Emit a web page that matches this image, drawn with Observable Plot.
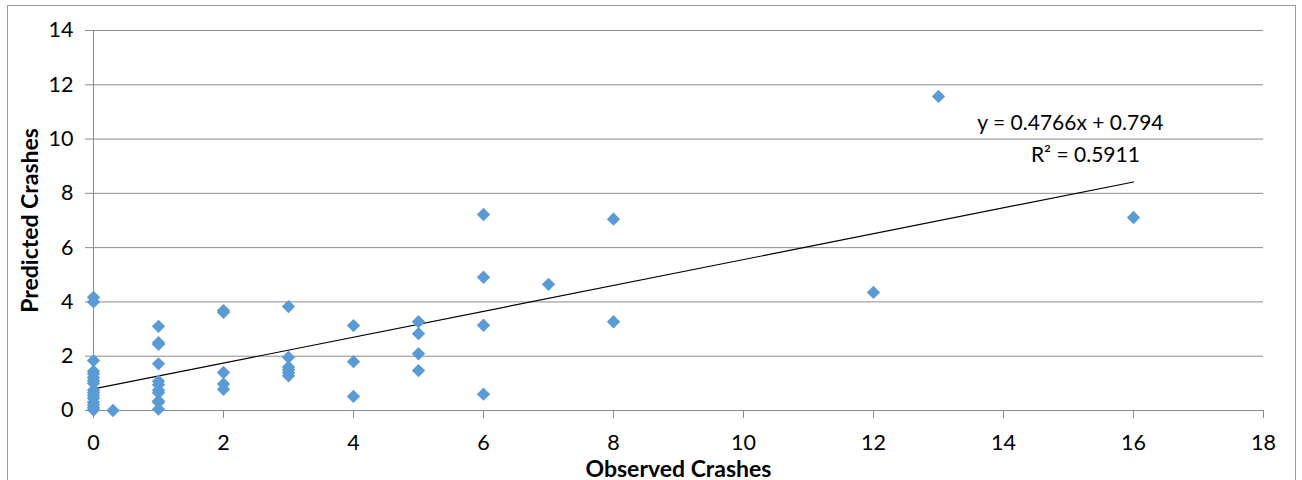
<!DOCTYPE html>
<html>
<head>
<meta charset="utf-8">
<script src="https://cdn.jsdelivr.net/npm/d3@7"></script>
<script src="https://cdn.jsdelivr.net/npm/@observablehq/plot@0.6"></script>
<style>
  html, body { margin: 0; padding: 0; background: #fff; }
  #wrap { position: relative; width: 1302px; height: 480px; }
  #border { position: absolute; left: 7px; top: 5px; width: 1289px; height: 480px; border: 1px solid #9a9a9a; box-sizing: border-box; pointer-events: none; }
  #wrap svg { position: absolute; left: 0; top: 0; }
  g[aria-label="x-axis label"] text, g[aria-label="y-axis label"] text { font-weight: bold; font-size: 23px; }
</style>
</head>
<body>
<div id="wrap"><div id="border"></div></div>
<script>
// Observed vs. predicted crash counts per site
const observed = [
  0, 0, 0, 0, 0, 0, 0, 0, 0, 0, 0, 0, 0, 0, 0, 0,
  0.3,
  1, 1, 1, 1, 1, 1, 1, 1, 1, 1, 1,
  2, 2, 2, 2, 2,
  3, 3, 3, 3, 3, 3,
  4, 4, 4,
  5, 5, 5, 5,
  6, 6, 6, 6,
  7,
  8, 8,
  12,
  13,
  16
];
const predicted = [
  4.17, 4.0, 1.84, 1.45, 1.35, 1.22, 1.1, 1.0, 0.75, 0.65, 0.55, 0.45, 0.3, 0.2, 0.1, 0.02,
  0.0,
  3.1, 2.5, 2.44, 1.72, 1.08, 0.95, 0.75, 0.65, 0.35, 0.3, 0.05,
  3.68, 3.62, 1.4, 0.98, 0.78,
  3.83, 1.96, 1.6, 1.5, 1.4, 1.28,
  3.13, 1.8, 0.52,
  3.27, 2.83, 2.09, 1.47,
  7.22, 4.91, 3.14, 0.6,
  4.65,
  7.05, 3.27,
  4.35,
  11.57,
  7.11
];

// Linear trendline and its goodness of fit
const slope = 0.4766;
const intercept = 0.794;
const rSquared = 0.5911;

// Axis ticks
const xTicks = [0, 2, 4, 6, 8, 10, 12, 14, 16, 18];
const yTicks = [0, 2, 4, 6, 8, 10, 12, 14];

const points = observed.map((o, i) => ({observed: o, predicted: predicted[i]}));
const trend = d3.extent(observed).map(x => ({x, y: slope * x + intercept}));
const eqLabels = [
  {x: 15.03, y: 10.6, text: `y = ${slope}x + ${intercept}`},
  {x: 15.26, y: 9.4, text: `R² = ${rSquared}`}
];

const gridColor = "#8c8c8c";

const chart = Plot.plot({
  width: 1302,
  height: 480,
  marginLeft: 93,
  marginRight: 39,
  marginTop: 30,
  marginBottom: 70,
  style: {fontFamily: "Lato, 'Open Sans', sans-serif", fontSize: "21.5px", color: "#000", background: "transparent"},
  x: {domain: [0, 18], ticks: xTicks},
  y: {domain: [0, 14], ticks: yTicks},
  marks: [
    Plot.gridY(yTicks, {stroke: gridColor, strokeOpacity: 1}),
    Plot.ruleX([0], {stroke: gridColor}),
    Plot.ruleY([0], {stroke: gridColor}),
    Plot.axisX(xTicks, {
      tickSize: 8, tickPadding: 16, stroke: gridColor,
      label: "Observed Crashes", labelAnchor: "center", labelOffset: 66, labelArrow: "none"
    }),
    Plot.axisY(yTicks, {
      tickSize: 8, tickPadding: 12, stroke: gridColor,
      label: "Predicted Crashes", labelAnchor: "center", labelOffset: 72, labelArrow: "none"
    }),
    Plot.line(trend, {x: "x", y: "y", stroke: "#000", strokeWidth: 1.2}),
    Plot.dot(points, {x: "observed", y: "predicted", symbol: "diamond2", r: 6, fill: "#5b9bd5", stroke: "none"}),
    Plot.text(eqLabels, {x: "x", y: "y", text: "text", fontSize: 21, fill: "#000", textAnchor: "middle"})
  ]
});

document.getElementById("wrap").appendChild(chart);
</script>
</body>
</html>
